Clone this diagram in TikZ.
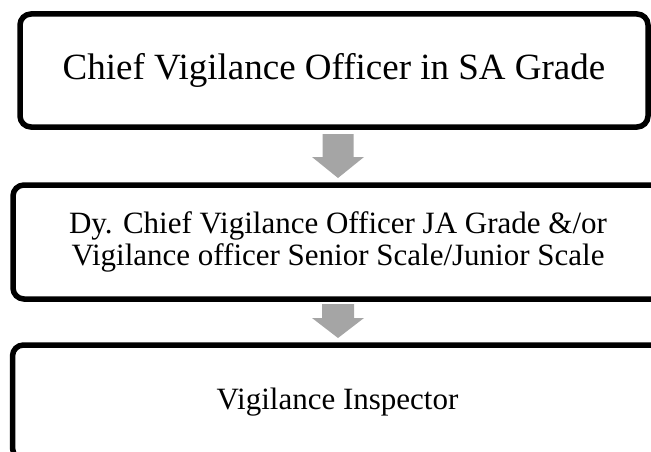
\documentclass[tikz,border=0pt]{standalone}
\usepackage{fontspec}
\setmainfont{Liberation Serif}
\usetikzlibrary{calc}
\definecolor{arrowgray}{HTML}{A5A5A5}
\begin{document}
\begin{tikzpicture}[x=1pt,y=-1pt,
  box/.style={draw=black, line width=5.5pt, rounded corners=11pt, fill=white, inner sep=0pt, align=center},
  bigtext/.style={font=\fontsize{37}{44}\selectfont},
  smalltext/.style={font=\fontsize{31}{32}\selectfont},
  blockarrow/.style={fill=arrowgray, draw=none}]
\useasboundingbox (0,0) rectangle (651,452);
\begin{scope}
\clip (0,0) rectangle (651,452);
\node[box, bigtext, minimum width=628pt, minimum height=113pt] (b1) at (334,70.5) {Chief Vigilance Officer in SA Grade};
\node[box, smalltext, minimum width=650pt, minimum height=114pt] (b2) at (338,242) {Dy. Chief Vigilance Officer JA Grade \&/or\\Vigilance officer Senior Scale/Junior Scale};
\node[box, smalltext, minimum width=650pt, minimum height=114pt] (b3) at (337.5,402) {Vigilance Inspector};
\end{scope}
% block arrows between boxes
\coordinate (a1s) at (338,134);
\coordinate (a1t) at (338,178);
\fill[blockarrow] ($(a1s)+(-15.5,0)$) -- ($(a1s)+(15.5,0)$) -- ($(a1s)+(15.5,23)$) -- ($(a1s)+(26,23)$) -- (a1t) -- ($(a1s)+(-26,23)$) -- ($(a1s)+(-15.5,23)$) -- cycle;
\coordinate (a2s) at (338,304);
\coordinate (a2t) at (338,338);
\fill[blockarrow] ($(a2s)+(-16,0)$) -- ($(a2s)+(16,0)$) -- ($(a2s)+(16,14)$) -- ($(a2s)+(26,14)$) -- (a2t) -- ($(a2s)+(-26,14)$) -- ($(a2s)+(-16,14)$) -- cycle;
\end{tikzpicture}
\end{document}
